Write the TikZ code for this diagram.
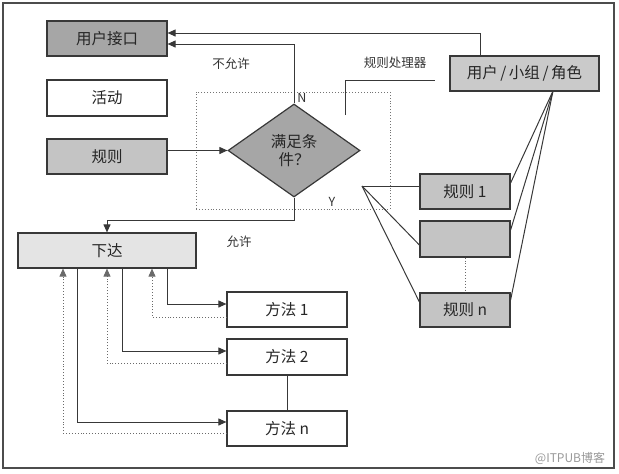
\documentclass[tikz,border=0pt]{standalone}
\usepackage{fontspec}
\setmainfont{Noto Sans CJK SC}
\usetikzlibrary{shapes.geometric,arrows.meta}
\definecolor{ln}{HTML}{383838}
\definecolor{dk}{HTML}{A6A6A6}
\definecolor{md}{HTML}{C4C4C4}
\definecolor{lt}{HTML}{E4E4E4}
\tikzset{
  box/.style={draw=ln, line width=1.2pt, inner sep=0pt, font=\fontsize{15.5}{17}\selectfont, text=black!85},
  lbl/.style={inner sep=0pt, font=\fontsize{12.5}{14}\selectfont, text=black!80},
  con/.style={draw=ln, line width=1pt},
  arr/.style={con, -{Triangle[length=8pt,width=7pt]}},
  dot/.style={draw=ln!75, line width=0.9pt, dotted},
  darr/.style={dot, -{Triangle[length=8pt,width=7pt]}},
}
\begin{document}
\begin{tikzpicture}[x=1pt,y=-1pt]
\useasboundingbox (0,0) rectangle (619,474);
\draw[draw=ln!90, line width=1.5pt] (3,3) rectangle (614,468);
% rule processor dotted frame
\node[draw=ln!70, dotted, line width=0.9pt, minimum width=194pt, minimum height=117pt, inner sep=0pt] (proc) at (293,150.5) {};
% left boxes
\node[box, fill=dk, minimum width=120pt, minimum height=35pt] (ui) at (107,38.5) {用户接口};
\node[box, fill=white, minimum width=120pt, minimum height=36pt] (act) at (107,98) {活动};
\node[box, fill=md, minimum width=120pt, minimum height=35pt] (rule) at (107,156.5) {规则};
% diamond
\node[draw=ln, line width=1.2pt, fill=dk, shape=diamond, inner sep=0pt, minimum width=132pt, minimum height=93pt, align=center, font=\fontsize{15.5}{18}\selectfont, text=black!85] (dia) at (294,150.5) {满足条\\件？};
% right boxes
\node[box, fill=md!90, minimum width=149pt, minimum height=35pt] (urg) at (524.5,73.5) {用户\,/\,小组\,/\,角色};
\node[box, fill=md, minimum width=90pt, minimum height=35pt] (r1) at (465,191.5) {规则 1};
\node[box, fill=md, minimum width=90pt, minimum height=36pt] (r2) at (465,239) {};
\node[box, fill=md, minimum width=90pt, minimum height=34pt] (rn) at (465,310) {规则 n};
% lower boxes
\node[box, fill=lt, minimum width=178pt, minimum height=35pt] (xd) at (107,250.5) {下达};
\node[box, fill=white, minimum width=120pt, minimum height=35pt] (m1) at (287,309.5) {方法 1};
\node[box, fill=white, minimum width=120pt, minimum height=36pt] (m2) at (287,357) {方法 2};
\node[box, fill=white, minimum width=120pt, minimum height=35pt] (mn) at (287,428.5) {方法 n};
% labels
\node[lbl] (lN) at (302,98) {N};
\node[lbl] (lY) at (332,202) {Y};
\node[lbl] (lno) at (231,64) {不允许};
\node[lbl] (lyes) at (239,242) {允许};
\node[lbl] (lproc) at (395,63) {规则处理器};
\node[inner sep=0pt, font=\fontsize{12}{14}\selectfont, text=black!40] (wm) at (570,458) {@ITPUB博客};
% connectors top
\draw[arr] (rule.east |- dia.west) -- (dia.west);
\draw[arr] (dia.north) |- (ui.east |- 0,44);
\draw[arr] (urg.north -| 480,0) |- (ui.east |- 0,33);
\draw[arr] (dia.south) -- (dia.south |- 0,220) -| (xd.north);
% rule processor bracket
\coordinate (pb1) at (345,115);
\coordinate (pb2) at (435,80);
\draw[con, line width=0.9pt] (pb1) |- (pb2);
% fans
\coordinate (apex) at (553,91);
\draw[con] (apex) -- (r1.east |- 0,183);
\draw[con] (apex) -- (r2.east |- 0,230);
\draw[con] (apex) -- (rn.east |- 0,300);
\coordinate (lv) at (362,186);
\draw[con] (lv) -- (r1.west |- lv);
\draw[con] (lv) -- (r2.west |- 0,245);
\draw[con] (lv) -- (rn.west |- 0,302);
\draw[dot] (r2.south) -- (rn.north);
% method connectors
\draw[arr] (xd.south -| 167,0) |- (m1.west |- 0,304);
\draw[darr] (m1.west |- 0,317) -| (xd.south -| 152,0);
\draw[arr] (xd.south -| 122,0) |- (m2.west |- 0,351);
\draw[darr] (m2.west |- 0,363) -| (xd.south -| 107,0);
\draw[arr] (xd.south -| 77,0) |- (mn.west |- 0,422);
\draw[darr] (mn.west |- 0,433) -| (xd.south -| 63,0);
\draw[ln, line width=0.6pt] (m2.south) -- (mn.north);
\end{tikzpicture}
\end{document}
